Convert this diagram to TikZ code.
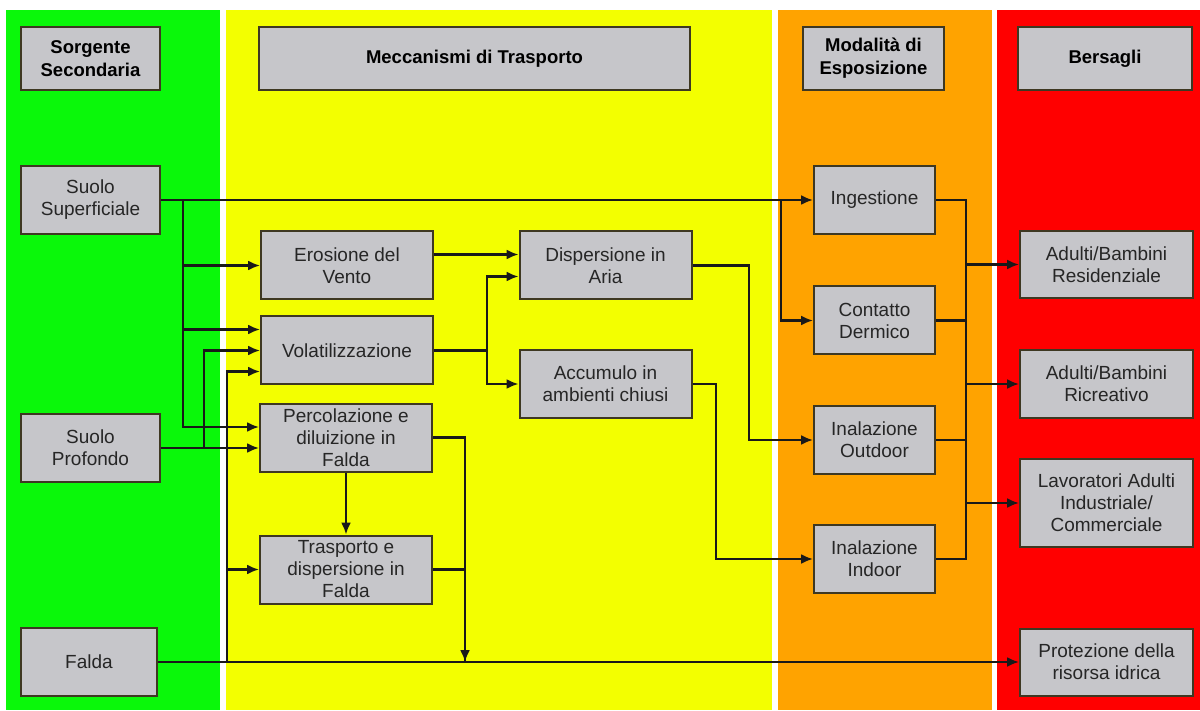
\documentclass[tikz,border=0pt]{standalone}
\usepackage{fontspec}
\setmainfont{Liberation Sans}
\usepackage{tikz}
\usetikzlibrary{arrows.meta}
\definecolor{verde}{RGB}{10,248,10}
\definecolor{giallo}{RGB}{243,255,0}
\definecolor{arancio}{RGB}{255,163,0}
\definecolor{rosso}{RGB}{255,0,0}
\definecolor{grigio}{RGB}{198,198,202}
\definecolor{bordo}{RGB}{62,56,34}
\tikzset{box/.style={draw=bordo, line width=2pt, fill=grigio, align=center, inner sep=0pt, text=black!85, font=\fontsize{19}{22}\selectfont}}
\tikzset{head/.style={box, minimum height=63pt, text=black, font=\fontsize{18.5}{23}\selectfont\bfseries}}
\tikzset{src/.style={box, minimum width=139pt, minimum height=68pt}}
\tikzset{mec/.style={box, minimum width=172pt, minimum height=68pt}}
\tikzset{esp/.style={box, minimum width=121pt, minimum height=68pt}}
\tikzset{ber/.style={box, minimum width=173pt, minimum height=67pt}}
\tikzset{ln/.style={line width=2.2pt, black!90}}
\tikzset{arr/.style={ln, -{Latex[length=12pt,width=10pt]}}}

\begin{document}
\begin{tikzpicture}[x=1pt,y=-1pt]
    \useasboundingbox (0,0) rectangle (1200,711);
    % colonne
    \fill[white] (0,0) rectangle (1200,711);
    \fill[verde] (6,10) rectangle (220,710);
    \fill[giallo] (226,10) rectangle (772,710);
    \fill[arancio] (778,10) rectangle (992,710);
    \fill[rosso] (997,10) rectangle (1200,710);

    % intestazioni
    \node[head, minimum width=139pt] (sorg) at (90.5,58.5) {Sorgente\\Secondaria};
    \node[head, minimum width=431pt] (mecc) at (474.5,58.5) {Meccanismi di Trasporto};
    \node[head, minimum width=141pt] (moda) at (873.5,58.5) {Modalità di\\Esposizione};
    \node[head, minimum width=174pt] (bers) at (1105,58.5) {Bersagli};

    % sorgenti
    \node[src] (sup) at (90.5,200) {Suolo\\Superficiale};
    \node[src] (prof) at (90.5,448) {Suolo\\Profondo};
    \node[src, minimum width=136pt] (falda) at (89,662) {Falda};

    % meccanismi
    \node[mec] (eros) at (347,265.5) {Erosione del\\Vento};
    \node[mec] (vol) at (347,350.5) {Volatilizzazione};
    \node[mec] (perc) at (346,437.5) {Percolazione e\\diluizione in\\Falda};
    \node[mec] (trasp) at (346,569.5) {Trasporto e\\dispersione in\\Falda};
    \node[mec] (disp) at (605.5,265.5) {Dispersione in\\Aria};
    \node[mec] (acc) at (605.5,384) {Accumulo in\\ambienti chiusi};

    % esposizione
    \node[esp] (ing) at (874.5,200) {Ingestione};
    \node[esp] (cont) at (874.5,320.5) {Contatto\\Dermico};
    \node[esp] (out) at (874.5,440) {Inalazione\\Outdoor};
    \node[esp] (ind) at (874.5,559) {Inalazione\\Indoor};

    % bersagli
    \node[ber] (res) at (1106.5,264.5) {Adulti/Bambini\\Residenziale};
    \node[ber] (ric) at (1106.5,384) {Adulti/Bambini\\Ricreativo};
    \node[ber, minimum height=88pt] (lav) at (1106.5,503) {Lavoratori Adulti\\Industriale/\\Commerciale};
    \node[ber] (prot) at (1106.5,662) {Protezione della\\risorsa idrica};

    % suolo superficiale
    \coordinate (a1) at (183,200);
    \draw[arr] (sup.east) -- (ing.west);
    \draw[arr] (a1) |- (eros.west);
    \draw[arr] (a1) |- ([yshift=21pt]vol.west);
    \draw[arr] (a1) |- ([yshift=10.5pt]perc.west);

    % suolo profondo
    \coordinate (b1) at (204,448);
    \draw[arr] (prof.east) -- ([yshift=-10.5pt]perc.west);
    \draw[arr] (b1) |- (vol.west);

    % falda
    \coordinate (c1) at (227,662);
    \draw[arr] (falda.east) -- (prot.west);
    \draw[arr] (c1) |- ([yshift=-21pt]vol.west);
    \draw[arr] (c1) |- (trasp.west);

    % meccanismi
    \coordinate (d1) at (487,350.5);
    \draw[arr] ([yshift=11pt]eros.east) -- ([yshift=11pt]disp.west);
    \draw[ln] (vol.east) -- (d1);
    \draw[arr] (d1) |- ([yshift=-11pt]disp.west);
    \draw[arr] (d1) |- (acc.west);
    \draw[arr] (perc.south) -- (trasp.north);
    \coordinate (e1) at (465,662);
    \draw[arr] (perc.east) -| (e1);
    \draw[ln] (trasp.east) -| (e1);

    % verso esposizione
    \draw[arr] (disp.east) -- ++(56.5,0) |- (out.west);
    \draw[arr] (acc.east) -- ++(23.5,0) |- (ind.west);
    \coordinate (g1) at (781,200);
    \draw[arr] (g1) |- (cont.west);

    % verso bersagli
    \draw[ln] (ing.east) -- ++(30,0) coordinate (h1) |- (ind.east);
    \draw[ln] (cont.east) -- (cont.east -| h1);
    \draw[ln] (out.east) -- (out.east -| h1);
    \draw[arr] (h1 |- res.west) -- (res.west);
    \draw[arr] (h1 |- ric.west) -- (ric.west);
    \draw[arr] (h1 |- lav.west) -- (lav.west);
\end{tikzpicture}
\end{document}
